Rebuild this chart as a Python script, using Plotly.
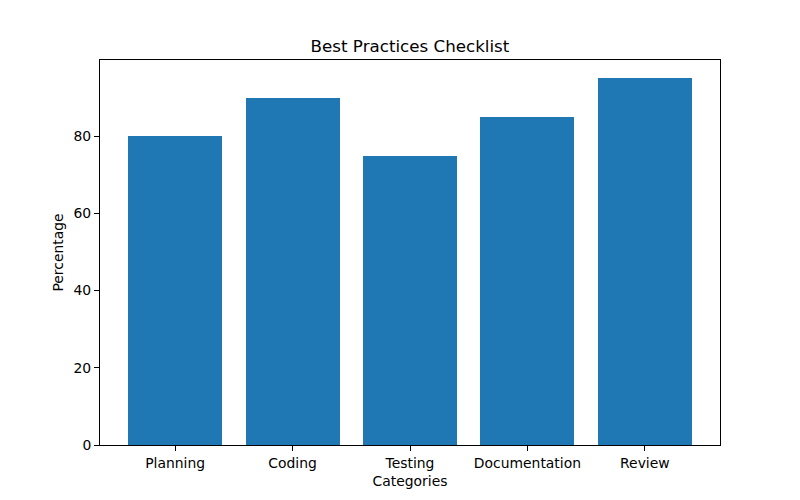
import plotly.graph_objects as go

categories = ["Planning", "Coding", "Testing", "Documentation", "Review"]
values = [80, 90, 75, 85, 95]
y_ticks = [0, 20, 40, 60, 80]

fig = go.Figure(go.Bar(
    x=list(range(len(categories))), y=values, width=0.8,
    marker=dict(color="#1f77b4", line=dict(width=0)),
))

fig.update_layout(
    width=800, height=500,
    margin=dict(l=92, r=88, t=52, b=63),
    paper_bgcolor="white", plot_bgcolor="white",
    font=dict(family="DejaVu Sans", size=13.9, color="black"),
    title=dict(text="Best Practices Checklist", x=(92 + 310) / 800, xanchor="center",
               y=1 - 44/500, yanchor="bottom", font=dict(size=16.7)),
    showlegend=False,
    bargap=0,
)
fig.update_xaxes(
    range=[-0.64, 4.64], tickmode="array",
    tickvals=list(range(len(categories))), ticktext=categories,
    showline=True, linecolor="black", linewidth=1, mirror=True,
    ticks="outside", ticklen=5, tickcolor="black", showgrid=False, zeroline=False,
    title=dict(text="Categories", font=dict(size=13.9), standoff=6),
)
fig.update_yaxes(
    range=[0, 99.75], tickmode="array", tickvals=y_ticks,
    showline=True, linecolor="black", linewidth=1, mirror=True,
    ticks="outside", ticklen=5, tickcolor="black", showgrid=False, zeroline=False,
    title=dict(text="Percentage", font=dict(size=13.9), standoff=6),
)

fig.write_html("out.html")
